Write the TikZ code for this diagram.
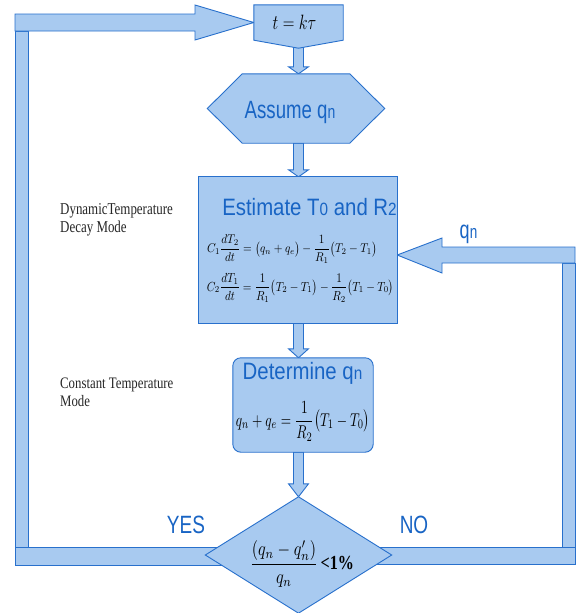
\documentclass[tikz,border=0pt]{standalone}
\usepackage{amsmath}
\usepackage{graphicx}
\usepackage{fontspec}
\setmainfont{Liberation Serif}
\newfontfamily\arialf{Liberation Sans}
\usetikzlibrary{calc}
\pgfdeclarelayer{paper}
\pgfdeclarelayer{bg}
\pgfsetlayers{paper,bg,main}
\definecolor{fillb}{RGB}{168,202,240}
\definecolor{lineb}{RGB}{40,112,204}
\definecolor{textb}{RGB}{24,100,196}
\newcommand\lowsub[1]{\scalebox{0.75}{#1}}
\newcommand\downblk[3]{%
  \draw[shp] let \p1=(#1), \p2=(#2), \p3=(colx) in
   (\x3-5pt,\y1) -- (\x3-5pt,\y2+#3) -- (\x3-10pt,\y2+#3) -- (\x3,\y2)
   -- (\x3+10pt,\y2+#3) -- (\x3+5pt,\y2+#3) -- (\x3+5pt,\y1) -- cycle;}
\begin{document}
\begin{tikzpicture}[x=1pt,y=-1pt,
  shp/.style={draw=lineb, fill=fillb, line width=0.9pt, line join=miter},
  ttl/.style={text=textb, font=\arialf, inner sep=0pt},
  lbl/.style={text=black!85, inner sep=0pt, anchor=base west},
  eqn/.style={inner sep=0pt}]
\begin{pgfonlayer}{paper}
  \fill[white] (0,0) rectangle (579,613);
\end{pgfonlayer}
\useasboundingbox (0,0) rectangle (579,613);
\coordinate (colx) at (298.5,0);

% frames of the shapes
\node[inner sep=0, minimum width=89pt, minimum height=35pt] (tk) at (298.5,22.5)
  {\hspace*{-8pt}\fontsize{22}{26}\selectfont\scalebox{0.78}[1]{$t = k\tau$}};
\coordinate (tkb) at ($(tk.south)+(0,8)$);
\node[inner sep=0, minimum width=107pt, minimum height=69pt] (as) at (296,108.5) {};
\node[inner sep=0, minimum width=198pt, minimum height=146pt] (est) at (298,250) {};
\node[inner sep=0, minimum width=140pt, minimum height=94pt] (det) at (303,405) {};
\node[inner sep=0, minimum width=186pt, minimum height=116pt] (dia) at (298.5,555) {};

% texts
\node[ttl, anchor=base] (asT) at (290,118)
  {\fontsize{25}{28}\selectfont\scalebox{0.745}[1]{Assume q\lowsub{n}}};
\node[ttl, anchor=base] (estT) at (309.5,215)
  {\fontsize{23.7}{28}\selectfont\scalebox{0.86}[1]{Estimate T\lowsub{0} and R\lowsub{2}}};
\node[eqn] (e1) at (292,249)
  {\resizebox*{170pt}{28pt}{$C_1\dfrac{dT_2}{dt} = \bigl(q_n + q_e\bigr) - \dfrac{1}{R_1}\bigl(T_2 - T_1\bigr)$}};
\node[eqn] (e2) at (300.5,287.5)
  {\resizebox*{187pt}{29pt}{$C_2\dfrac{dT_1}{dt} = \dfrac{1}{R_1}\bigl(T_2 - T_1\bigr) - \dfrac{1}{R_2}\bigl(T_1 - T_0\bigr)$}};
\node[ttl, anchor=base] (detT) at (302.5,379)
  {\fontsize{23.7}{28}\selectfont\scalebox{0.86}[1]{Determine q\lowsub{n}}};
\node[eqn] (detE) at (303,421.5)
  {\resizebox*{134pt}{40pt}{$q_n + q_e = \dfrac{1}{R_2}\bigl(T_1 - T_0\bigr)$}};
\node[eqn] (diaE) at (302,564)
  {\resizebox*{104pt}{46pt}{$\dfrac{(q_n - q'_n)}{q_n}$\,\textbf{<1\%}}};
\node[ttl, anchor=base] (yes) at (186,533)
  {\fontsize{25}{28}\selectfont\scalebox{0.76}[1]{YES}};
\node[ttl, anchor=base] (no) at (414,533)
  {\fontsize{25}{28}\selectfont\scalebox{0.76}[1]{NO}};
\node[ttl, anchor=base] (qlab) at (468.5,238)
  {\fontsize{25}{28}\selectfont\scalebox{0.72}[1]{q\lowsub{n}}};
\node[lbl] (dyn) at (60,214)
  {\fontsize{16.6}{18}\selectfont\scalebox{0.78}[1]{\begin{tabular}[t]{@{}l@{}}DynamicTemperature\\Decay Mode\end{tabular}}};
\node[lbl] (ctm) at (60,388)
  {\fontsize{16}{18}\selectfont\scalebox{0.8}[1]{\begin{tabular}[t]{@{}l@{}}Constant Temperature\\Mode\end{tabular}}};

\begin{pgfonlayer}{bg}
  % straight block arrows down the column
  \downblk{tk.south}{as.north}{7pt}
  \downblk{as.south}{est.north}{7pt}
  \downblk{est.south}{det.north}{9pt}
  \downblk{det.south}{dia.north}{13pt}
  % YES loop (left)
  \draw[shp] (15,31) rectangle (28,547);
  \draw[shp] (15,547) rectangle ($(dia.west)+(30,10)$);
  \draw[shp] (15,14) -- (195,14) -- (195,5) -- (tk.west) -- (195,40) -- (195,31) -- (15,31) -- cycle;
  % NO loop (right)
  \draw[shp] (562,263) rectangle (575,547);
  \draw[shp] ($(dia.east)+(-30,-8)$) rectangle (575,564);
  \draw[shp] (575,247) -- (442,247) -- (442,238) -- ($(est.east)+(0,5)$) -- (442,273) -- (442,263) -- (575,263) -- cycle;
  % shapes
  \draw[shp] (tk.north west) -- (tk.north east) -- (tk.south east) -- (tkb) -- (tk.south west) -- cycle;
  \draw[shp] (as.north west) -- (as.north east) -- ($(as.east)+(35,0)$) -- (as.south east)
     -- (as.south west) -- ($(as.west)+(-35,0)$) -- cycle;
  \draw[shp] (est.north west) rectangle (est.south east);
  \draw[shp, rounded corners=8pt] (det.north west) rectangle (det.south east);
  \draw[shp] (dia.north) -- (dia.east) -- (dia.south) -- (dia.west) -- cycle;
\end{pgfonlayer}
\end{tikzpicture}
\end{document}
